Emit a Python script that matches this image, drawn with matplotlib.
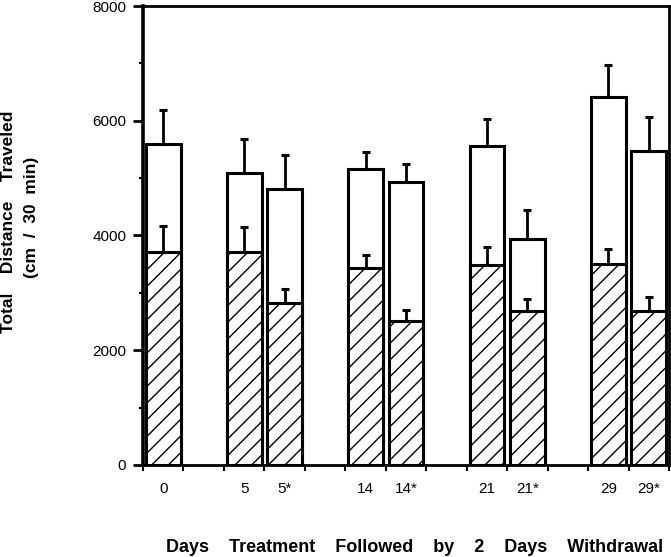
import numpy as np
import matplotlib
matplotlib.use("Agg")
import matplotlib.pyplot as plt
from matplotlib.ticker import MultipleLocator

# groups on the x axis (slot index of each bar, 13 slots in total)
labels = ["0", "5", "5*", "14", "14*", "21", "21*", "29", "29*"]
slots = [0, 2, 3, 5, 6, 8, 9, 11, 12]

# open bars (total) and hatched bars, with upward error bars
total_mean = [5590, 5090, 4810, 5160, 4930, 5560, 3940, 6410, 5470]
total_err = [600, 590, 590, 300, 310, 470, 500, 560, 590]
hatched_mean = [3710, 3710, 2820, 3430, 2510, 3490, 2680, 3500, 2680]
hatched_err = [450, 440, 245, 230, 190, 310, 210, 260, 245]

plt.rcParams["font.family"] = ["Liberation Sans", "DejaVu Sans"]
plt.rcParams["hatch.linewidth"] = 1.0

fig = plt.figure(figsize=(6.71, 5.57), dpi=100)
ax = fig.add_axes([0.2131, 0.1652, 0.7839, 0.824])

x = np.array(slots) + 0.5
width = 0.86

ax.bar(x, total_mean, width=width, facecolor="white", edgecolor="black",
       linewidth=2.2, zorder=2)
ax.bar(x, hatched_mean, width=width, facecolor="white", edgecolor="black",
       hatch="//", linewidth=2.2, zorder=3)

zeros = np.zeros(len(x))
ax.errorbar(x, total_mean, yerr=[zeros, total_err], fmt="none", ecolor="black",
            elinewidth=2, capsize=2.6, capthick=2.2, zorder=4)
ax.errorbar(x, hatched_mean, yerr=[zeros, hatched_err], fmt="none", ecolor="black",
            elinewidth=2, capsize=2.6, capthick=2.2, zorder=4)

ax.set_xlim(0, 13)
ax.set_ylim(0, 8000)

ax.set_xticks(x)
ax.set_xticklabels(labels, fontsize=11)
ax.set_xticks(np.arange(0, 14), minor=True)
ax.tick_params(axis="x", which="major", length=0, pad=12)
ax.tick_params(axis="x", which="minor", length=4, width=1.5, direction="out")

ax.yaxis.set_major_locator(MultipleLocator(2000))
ax.yaxis.set_minor_locator(MultipleLocator(1000))
ax.tick_params(axis="y", which="major", length=7, width=2, labelsize=11, pad=5)
ax.tick_params(axis="y", which="minor", length=3, width=1.5)

for s in ax.spines.values():
    s.set_linewidth(2)
ax.spines["left"].set_linewidth(2.6)

fig.text(0.0127, 0.602, "Total    Distance    Traveled", rotation=90,
         fontsize=12.5, fontweight="bold", ha="center", va="center")
fig.text(0.047, 0.609, "(cm  /  30  min)", rotation=90,
         fontsize=12.5, fontweight="bold", ha="center", va="center")
fig.text(0.6185, 0.009, "Days    Treatment    Followed    by    2    Days    Withdrawal",
         fontsize=13, fontweight="bold", ha="center", va="baseline")

fig.savefig("out.png", dpi=100)
